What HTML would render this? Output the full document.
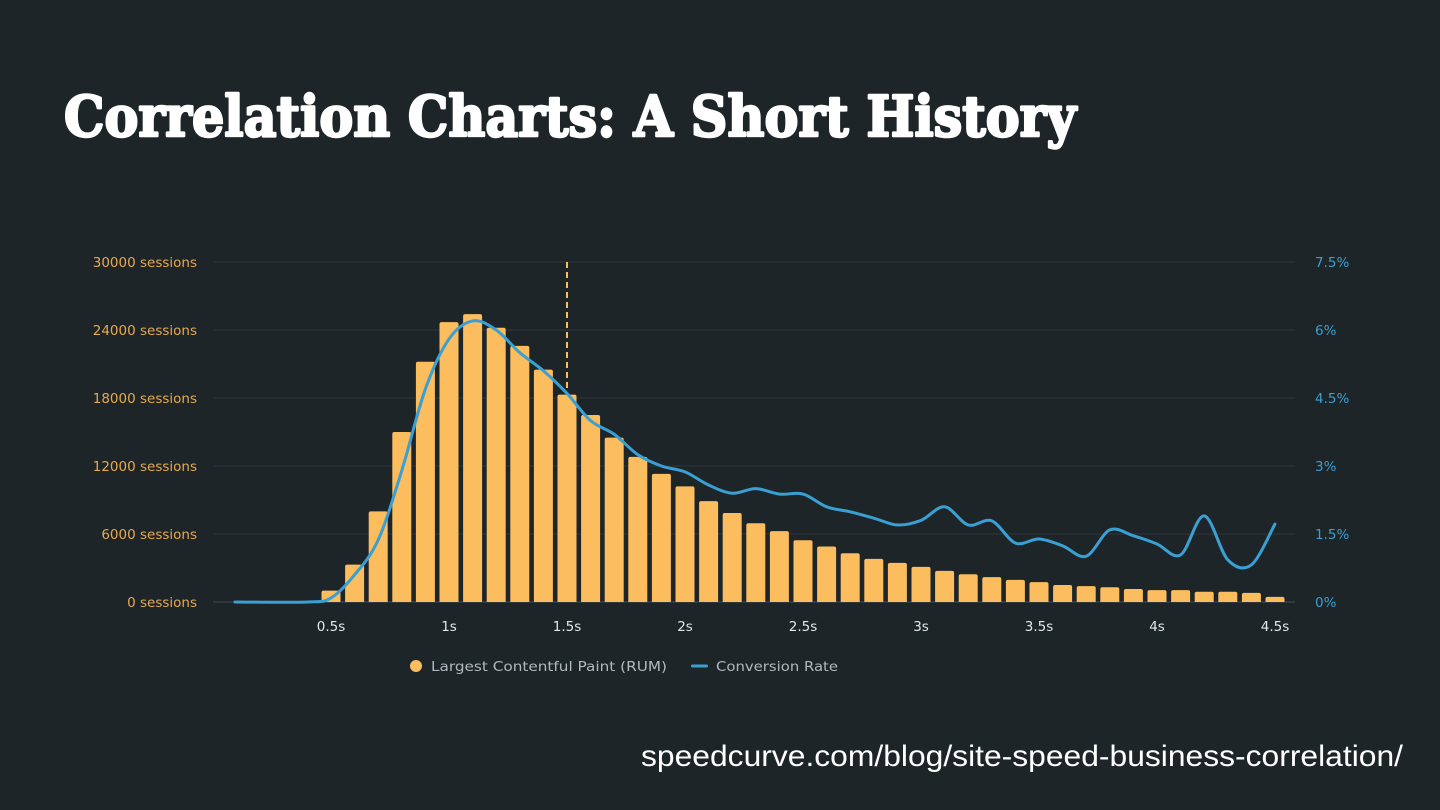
<!DOCTYPE html>
<html><head><meta charset="utf-8"><style>
html,body{margin:0;padding:0;background:#1e2529;}
svg{display:block}
</style></head><body>
<svg id="chart" width="1440" height="810" viewBox="0 0 1440 810" xmlns="http://www.w3.org/2000/svg">
<rect width="1440" height="810" fill="#1e2529"/>
<text x="64" y="136" textLength="1012" lengthAdjust="spacingAndGlyphs" font-family="'DejaVu Serif','Liberation Serif',serif" font-weight="bold" font-size="56" fill="#ffffff" stroke="#ffffff" stroke-width="2.5" stroke-linejoin="round">Correlation Charts: A Short History</text>
<text x="641" y="766" textLength="762" lengthAdjust="spacingAndGlyphs" font-family="'Liberation Sans',sans-serif" font-size="30" fill="#ffffff">speedcurve.com/blog/site-speed-business-correlation/</text>
<g id="grid"></g>
<g id="bars"></g>
<g id="line"></g>
<g id="axes"></g>
<g font-family="'DejaVu Sans',sans-serif" font-size="13.5" fill="#b4b8bc">
  <circle cx="416" cy="666" r="6" fill="#fbbd5e"/>
  <text x="431" y="671" textLength="236" lengthAdjust="spacingAndGlyphs">Largest Contentful Paint (RUM)</text>
  <rect x="691" y="664.5" width="17" height="3" rx="1.5" fill="#3a9fd3"/>
  <text x="716" y="671" textLength="122" lengthAdjust="spacingAndGlyphs">Conversion Rate</text>
</g>
</svg>
<script>
const barTimes = [0.4,0.5,0.6,0.7,0.8,0.9,1.0,1.1,1.2,1.3,1.4,1.5,1.6,1.7,1.8,1.9,2.0,2.1,2.2,2.3,2.4,2.5,2.6,2.7,2.8,2.9,3.0,3.1,3.2,3.3,3.4,3.5,3.6,3.7,3.8,3.9,4.0,4.1,4.2,4.3,4.4,4.5];
const sessions = [50,1000,3300,8000,15000,21200,24700,25400,24200,22600,20500,18300,16500,14500,12800,11300,10200,8900,7850,6950,6250,5450,4900,4300,3800,3450,3100,2750,2450,2200,1950,1750,1500,1400,1300,1150,1050,1050,900,900,800,450];
const lineTimes = [0.093,0.4,0.5,0.6,0.7,0.8,0.9,1.0,1.1,1.2,1.3,1.4,1.5,1.6,1.7,1.8,1.9,2.0,2.1,2.2,2.3,2.4,2.5,2.6,2.7,2.8,2.9,3.0,3.1,3.2,3.3,3.4,3.5,3.6,3.7,3.8,3.9,4.0,4.1,4.2,4.3,4.4,4.5];
const conversion = [0,0,0.09,0.6,1.37,2.9,4.7,5.8,6.2,6.0,5.5,5.1,4.6,4.0,3.7,3.25,3.0,2.87,2.58,2.4,2.5,2.38,2.38,2.1,1.99,1.85,1.7,1.8,2.1,1.7,1.79,1.3,1.39,1.24,1.01,1.59,1.46,1.28,1.04,1.9,0.93,0.82,1.72];
const leftTicks = [0,6000,12000,18000,24000,30000];
const rightTicks = ["0%","1.5%","3%","4.5%","6%","7.5%"];
const xTicks = [0.5,1,1.5,2,2.5,3,3.5,4,4.5];
const xTickLabels = ["0.5s","1s","1.5s","2s","2.5s","3s","3.5s","4s","4.5s"];
const markerTime = 1.5;

const NS="http://www.w3.org/2000/svg";
const xs = t => 213 + t*236;
const yL = v => 602 - v/30000*340;
const yR = p => 602 - p/7.5*340;
function mk(tag, attrs, parent){const e=document.createElementNS(NS,tag);for(const k in attrs)e.setAttribute(k,attrs[k]);parent.appendChild(e);return e;}
const grid=document.getElementById('grid'),bars=document.getElementById('bars'),line=document.getElementById('line'),axes=document.getElementById('axes');
const F="'DejaVu Sans',sans-serif";

leftTicks.forEach((v,i)=>{
  const y=yL(v);
  const g=mk('line',{x1:213,x2:1295,y1:y,y2:y,stroke:i==0?'#444c51':'#2f373c','stroke-width':1},grid);
  
  
  const t=mk('text',{x:197,y:y+5,'text-anchor':'end','font-family':F,'font-size':13.5,fill:'#e8a94c'},axes);
  t.textContent=v+' sessions';
  
  
  const r=mk('text',{x:1315,y:y+5,'font-family':F,'font-size':13.5,fill:'#3a9fd3'},axes);
  r.textContent=rightTicks[i];
  
  
});
xTicks.forEach((t,i)=>{
  const e=mk('text',{x:xs(t),y:631,'text-anchor':'middle','font-family':F,'font-size':13.5,fill:'#e4e6e8'},axes);
  e.textContent=xTickLabels[i];
  
  
});
barTimes.forEach((t,i)=>{
  const top=yL(sessions[i]);
  const b=mk('path',{d:`M${xs(t)-9.5},602 V${Math.min(top+2,602)} Q${xs(t)-9.5},${top} ${xs(t)-7.5},${top} H${xs(t)+7.5} Q${xs(t)+9.5},${top} ${xs(t)+9.5},${Math.min(top+2,602)} V602 Z`,fill:'#fbbd5e'},bars);
  
  
});
const dash=mk('line',{x1:xs(markerTime),x2:xs(markerTime),y1:262,y2:392,stroke:'#fbbd5e','stroke-width':2,'stroke-dasharray':'6,4'},bars);



const pts=lineTimes.map((t,i)=>[xs(t),yR(conversion[i])]);
let d=`M${pts[0][0]},${pts[0][1]}`;
for(let i=0;i<pts.length-1;i++){
  const p0=pts[Math.max(0,i-1)],p1=pts[i],p2=pts[i+1],p3=pts[Math.min(pts.length-1,i+2)];
  const c1=[p1[0]+(p2[0]-p0[0])/6,p1[1]+(p2[1]-p0[1])/6];
  const c2=[p2[0]-(p3[0]-p1[0])/6,p2[1]-(p3[1]-p1[1])/6];
  d+=` C${c1[0]},${c1[1]} ${c2[0]},${c2[1]} ${p2[0]},${p2[1]}`;
}
const ln=mk('path',{d:d,fill:'none',stroke:'#3a9fd3','stroke-width':3,'stroke-linejoin':'round','stroke-linecap':'round'},line);


</script>
</body></html>
